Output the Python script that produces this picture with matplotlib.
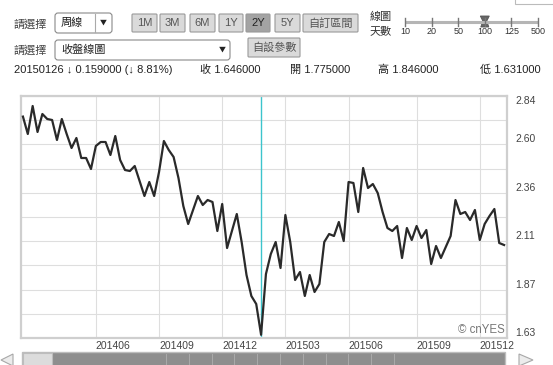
import numpy as np
import pandas as pd
import matplotlib
matplotlib.use('Agg')
import matplotlib.pyplot as plt
from matplotlib.patches import Rectangle, FancyBboxPatch, Polygon

# weekly closes, 100 weeks shown (線圖天數 = 100)
dates = pd.date_range('2014-02-17', periods=100, freq='W-MON')
close = [2.737, 2.65, 2.79, 2.66, 2.75, 2.725, 2.72, 2.62, 2.725, 2.65,
         2.58, 2.63, 2.53, 2.53, 2.475, 2.59, 2.61, 2.61, 2.545, 2.64,
         2.52, 2.47, 2.465, 2.49, 2.415, 2.34, 2.41, 2.34, 2.46, 2.615,
         2.57, 2.535, 2.43, 2.29, 2.20, 2.27, 2.34, 2.295, 2.32, 2.31,
         2.165, 2.30, 2.08, 2.165, 2.25, 2.11, 1.945, 1.84, 1.80, 1.646,
         1.95, 2.05, 2.11, 1.98, 2.245, 2.11, 1.92, 1.96, 1.84, 1.945,
         1.86, 1.90, 2.11, 2.15, 2.14, 2.21, 2.115, 2.41, 2.405, 2.26,
         2.48, 2.38, 2.40, 2.355, 2.26, 2.18, 2.165, 2.19, 2.03, 2.18,
         2.12, 2.19, 2.13, 2.17, 2.00, 2.09, 2.03, 2.085, 2.14, 2.32,
         2.25, 2.26, 2.22, 2.27, 2.12, 2.20, 2.24, 2.275, 2.105, 2.095]
month_labels = ['201406', '201409', '201412', '201503', '201506', '201509', '201512']
y_min, y_max = 1.63, 2.84
sel_date = '2015-01-26'
info = '20150126 ↓ 0.159000 (↓ 8.81%)'
ohlc = [('收', '1.646000'), ('開', '1.775000'), ('高', '1.846000'), ('低', '1.631000')]
buttons = ['1M', '3M', '6M', '1Y', '2Y', '5Y', '自訂區間']
slider_days = ['10', '20', '50', '100', '125', '500']

W, H = 553, 365
FONT = ['Liberation Sans', 'Noto Sans CJK TC', 'DejaVu Sans']
CJK = ['Noto Sans CJK TC', 'Liberation Sans', 'DejaVu Sans']

fig = plt.figure(figsize=(W / 100, H / 100), dpi=100)
fig.patch.set_facecolor('white')

# ---- toolbar / UI layer (pixel coords, y down) ----
ui = fig.add_axes([0, 0, 1, 1])
ui.set_xlim(0, W)
ui.set_ylim(H, 0)
ui.axis('off')


def box(x0, y0, x1, y1, fc, ec='#9a9a9a', r=2):
    ui.add_patch(FancyBboxPatch((x0, y0), x1 - x0, y1 - y0,
                                boxstyle='round,pad=0,rounding_size=%d' % r,
                                fc=fc, ec=ec, lw=0.8))


ui.text(14, 24, '請選擇', family=CJK, fontsize=8, color='#444', va='center')
ui.text(14, 50, '請選擇', family=CJK, fontsize=8, color='#444', va='center')

# period dropdown
box(55, 13, 112, 33, 'white', '#8a8a8a', 3)
ui.plot([95, 95], [14, 32], color='#aaa', lw=0.8)
ui.text(61, 23, '周線', family=CJK, fontsize=8, color='#222', va='center')
ui.text(103, 23, '▼', family=CJK, fontsize=5, color='#222', va='center', ha='center')

# chart type dropdown
box(55, 40, 230, 60, 'white', '#8a8a8a', 3)
ui.text(61, 50, '收盤線圖', family=CJK, fontsize=8, color='#222', va='center')
ui.text(222, 50, '▼', family=CJK, fontsize=5, color='#222', va='center', ha='center')

# range buttons
btn_x = [(132, 157), (160, 185), (190, 215), (219, 243), (246, 270), (275, 300), (303, 358)]
for lab, (a, b) in zip(buttons, btn_x):
    fc = '#a3a3a3' if lab == '2Y' else '#dadada'
    box(a, 14, b, 32, fc, '#9a9a9a', 1)
    ui.text((a + b) / 2, 23.5, lab, family=FONT, fontsize=8,
            color='#222' if lab == '2Y' else '#555', ha='center', va='center')
box(248, 38, 300, 57, '#dadada', '#9a9a9a', 1)
ui.text(274, 47.5, '自設參數', family=CJK, fontsize=8, color='#555', ha='center', va='center')

# 線圖天數 slider
ui.text(370, 17, '線圖', family=CJK, fontsize=8, color='#333', va='center')
ui.text(370, 31, '天數', family=CJK, fontsize=8, color='#333', va='center')
sx = np.linspace(405, 538, len(slider_days))
ui.plot([sx[0], sx[-1]], [22, 22], color='#b5b5b5', lw=2.2, solid_capstyle='butt')
for px, lab in zip(sx, slider_days):
    ui.plot([px, px], [18, 26], color='#777', lw=1)
    ui.text(px, 32, lab, family=FONT, fontsize=6.5, color='#333', ha='center', va='center')
tx = sx[slider_days.index('100')]
ui.add_patch(Polygon([(tx - 4.5, 16), (tx + 4.5, 16), (tx + 2, 21), (tx + 4, 27),
                      (tx - 4, 27), (tx - 2, 21)], closed=True, fc='#666', ec='#555', lw=0.6))
ui.add_patch(Rectangle((515, -5), 40, 9, fc='white', ec='#bbb', lw=0.8))

# info row
ui.text(14, 70, info, family=FONT, fontsize=8, color='#222', va='center')
for (k, v), px in zip(ohlc, [200, 290, 378, 480]):
    ui.text(px, 70, k + ' ' + v, family=FONT, fontsize=8, color='#222', va='center')

# bottom scrollbar
ui.add_patch(Rectangle((22, 352), 483, 14, fc='#8e8e8e', ec='#bdbdbd', lw=1))
ui.add_patch(Rectangle((23, 353), 29, 13, fc='#dcdcdc', ec='#bdbdbd', lw=0.8))
for px in np.arange(166, 400, 22.8):
    ui.plot([px, px], [354, 365], color='#aaaaaa', lw=0.7)
ui.add_patch(Polygon([(1, 360), (13, 354), (13, 366)], closed=True, fc='#ececec', ec='#a8a8a8', lw=0.8))
ui.add_patch(Polygon([(533, 360), (519, 354), (519, 366)], closed=True, fc='#ececec', ec='#a8a8a8', lw=0.8))

# ---- price chart ----
ax = fig.add_axes([21 / W, (H - 338) / H, 486 / W, 242 / H])
x = np.arange(len(close))
ym = [d.strftime('%Y%m') for d in dates]
month_pos = [ym.index(m) for m in month_labels]
sel = list(dates.strftime('%Y-%m-%d')).index(sel_date)

ax.plot(x, close, color='#2a2a2a', lw=1.6, zorder=3)
ax.axvline(sel, color='#3cc4cc', lw=1, zorder=2)

ax.set_xlim(-0.4, 99.6)
ax.set_ylim(y_min, y_max)
ax.set_xticks(month_pos)
ax.set_xticklabels(month_labels, ha='left')
ylab = np.linspace(y_min, y_max, 6)
ax.set_yticks(ylab)
ax.set_yticklabels(['%.2f' % v for v in ylab])
ax.set_yticks(np.linspace(y_min, y_max, 11), minor=True)
ax.yaxis.tick_right()
ax.tick_params(axis='both', which='both', length=0, colors='#444', labelsize=7.5)
ax.tick_params(axis='y', pad=6)
ax.tick_params(axis='x', pad=2)
for t in ax.get_xticklabels() + ax.get_yticklabels():
    t.set_family(FONT)
ylabels = ax.get_yticklabels()
for t in ylabels:
    t.set_va('bottom')
ylabels[-1].set_va('top')
ax.grid(True, which='both', color='#dedede', lw=0.8)
ax.set_axisbelow(True)
for s in ax.spines.values():
    s.set_color('#cfcfcf')
    s.set_linewidth(1.6)

ax.text(0.995, 0.035, '© cnYES', transform=ax.transAxes, ha='right', va='center',
        family=FONT, fontsize=8.3, color='#777')

fig.savefig('out.png', dpi=100)
